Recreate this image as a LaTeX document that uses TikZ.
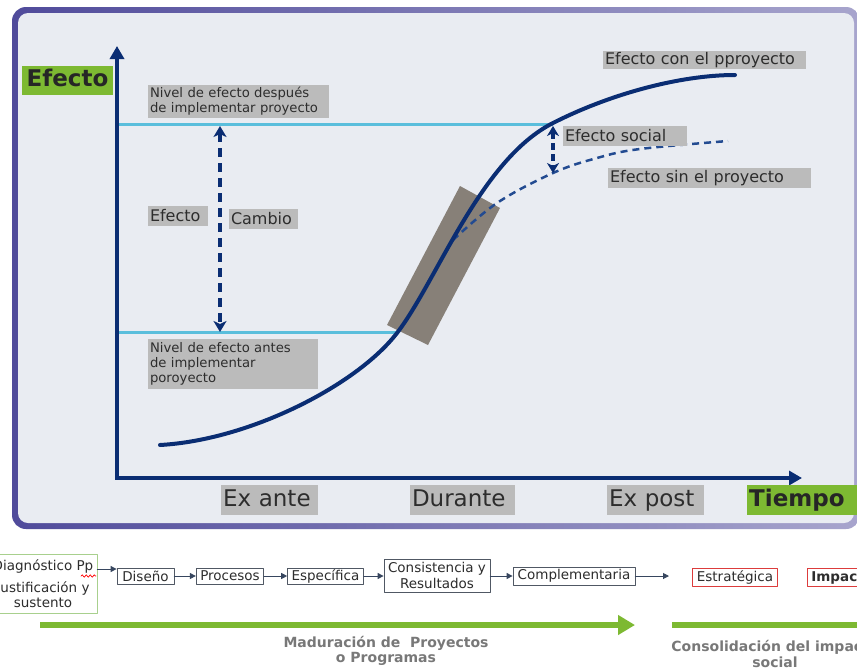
\documentclass[tikz,border=0pt]{standalone}
\usepackage{fontspec}
\setmainfont{DejaVu Sans}
\usetikzlibrary{arrows.meta,calc,decorations.pathmorphing}
\definecolor{navy}{RGB}{10,45,115}
\definecolor{dashnavy}{RGB}{35,75,145}
\definecolor{skyline}{RGB}{90,190,220}
\definecolor{lblgray}{RGB}{187,187,187}
\definecolor{txtdark}{RGB}{45,45,45}
\definecolor{panelc}{RGB}{233,236,242}
\definecolor{framec}{RGB}{80,75,155}
\definecolor{bandc}{RGB}{135,128,120}
\definecolor{leafgreen}{RGB}{125,185,50}
\definecolor{boxline}{RGB}{80,88,100}
\definecolor{flowc}{RGB}{55,70,95}
\definecolor{redline}{RGB}{220,60,60}
\definecolor{mutegray}{RGB}{120,120,120}
\definecolor{lightgreen}{RGB}{168,208,141}
\tikzset{
  lbl/.style={fill=lblgray,text=txtdark,inner xsep=2pt,inner ysep=0pt,align=left,font=\fontsize{16}{18}\selectfont},
  lblsmall/.style={lbl,font=\fontsize{13.2}{15}\selectfont},
  lblbig/.style={lbl,minimum height=30,text height=17,text depth=5,font=\fontsize{23}{25}\selectfont},
  axistitle/.style={fill=leafgreen,text=black!85,inner xsep=2pt,inner ysep=0pt,align=left,minimum height=30,text height=17,text depth=5,font=\bfseries\fontsize{23}{25}\selectfont},
  stage/.style={draw=boxline,line width=0.8pt,text=txtdark,inner xsep=4pt,inner ysep=1pt,minimum height=16,font=\fontsize{13.5}{16}\selectfont},
  goal/.style={stage,draw=redline},
  flow/.style={draw=flowc,line width=1pt,-{Triangle[length=6pt,width=6pt]}},
  phase/.style={text=mutegray,align=center,font=\bfseries\fontsize{14}{15.5}\selectfont},
}
\begin{document}
\begin{tikzpicture}[x=1pt,y=-1pt,line cap=round,line join=round]
		\useasboundingbox (0,0) rectangle (857,667);
		\clip (0,0) rectangle (857,667);
		\fill[white] (0,0) rectangle (857,667);
		% frame of the chart
		\shade[left color=framec,right color=framec!50!white,rounded corners=14] (12,7) rectangle (860,529);
		\fill[panelc,rounded corners=10] (18,13) rectangle (854,523);
		% transition band
		\fill[bandc] (460,186) -- (500,208) -- (428,345) -- (387,325) -- cycle;
		% levels before and after
		\coordinate (hiL) at (117,124);
		\coordinate (hiR) at (553,124);
		\coordinate (loL) at (117,332);
		\coordinate (loR) at (398,332);
		\draw[skyline,line width=3pt,line cap=butt] (hiL) -- (hiR);
		\draw[skyline,line width=3pt,line cap=butt] (loL) -- (loR);
		% curves
		\draw[dashnavy,line width=2.5pt,line cap=butt,dash pattern=on 7pt off 5pt] plot[smooth,tension=0.6] coordinates {(453,240) (497,203) (553,173) (597,158) (640,149) (728,141)};
		\draw[navy,line width=4pt] (160,445) .. controls (250,440) and (357,385) .. (397,333)
			.. controls (437,281) and (480,160) .. (553,123)
			.. controls (610,94) and (680,75) .. (735,75);
		% axes
		\draw[navy,line width=4.5pt,line join=miter,line cap=butt,{Triangle[length=13pt,width=14pt]}-{Triangle[length=13pt,width=14pt]}] (117,46) |- (802,478);
		% changes
		\coordinate (cambioT) at (220,126);
		\coordinate (cambioB) at (220,332);
		\draw[navy,line width=3.5pt,line cap=butt,dash pattern=on 9pt off 6pt,{Stealth[length=11pt,width=13pt,inset=3pt]}-{Stealth[length=11pt,width=13pt,inset=3pt]}] (cambioT) -- (cambioB);
		\coordinate (socialT) at (553,126);
		\coordinate (socialB) at (553,173);
		\draw[navy,line width=3.5pt,line cap=butt,dash pattern=on 7pt off 4pt,{Stealth[length=10pt,width=12pt,inset=3pt]}-{Stealth[length=10pt,width=12pt,inset=3pt]}] (socialT) -- (socialB);
		% labels of the chart
		\node[axistitle,minimum width=91,minimum height=29] (efectoT) at (67.5,80.5) {Efecto};
		\node[axistitle,anchor=west,text width=116] (tiempoT) at (747,500) {Tiempo};
		\node[lblsmall,text width=177,minimum height=33] (despues) at (238.5,101.5) {Nivel de efecto después\\de implementar proyecto};
		\node[lblsmall,text width=166,minimum height=50] (antes) at (233,364) {Nivel de efecto antes\\de implementar\\poroyecto};
		\node[lbl,text width=56,minimum height=20] (efectoL) at (178,216) {Efecto};
		\node[lbl,text width=65,minimum height=20] (cambioL) at (263.5,219) {Cambio};
		\node[lbl,text width=120,minimum height=20] (socialL) at (625,136) {Efecto social};
		\node[lbl,text width=199,minimum height=20] (sinL) at (709.5,178) {Efecto sin el proyecto};
		\node[lbl,text width=199,minimum height=18] (conL) at (704.5,60) {Efecto con el pproyecto};
		\node[lblbig,text width=93] (exante) at (269.5,500) {Ex ante};
		\node[lblbig,text width=101] (durante) at (462.5,500) {Durante};
		\node[lblbig,text width=93] (expost) at (655.5,500) {Ex post};
		% stages
		\node[draw=lightgreen,line width=0.8pt,text=txtdark,align=center,minimum width=108,minimum height=59,font=\fontsize{13.5}{15}\selectfont] (diag) at (43,583.5) {Diagnóstico Pp\\[7pt]Justificación y\\sustento};
		\draw[red,line width=0.7pt,decorate,decoration={snake,amplitude=1.2pt,segment length=4pt}] (81,576) -- (96,576);
		\node[stage,minimum width=57] (dis) at (145.5,576) {Diseño};
		\node[stage,minimum width=66] (proc) at (230,576) {Procesos};
		\node[stage,minimum width=73] (espec) at (325.5,576) {Específica};
		\node[stage,align=center,minimum width=106,minimum height=33] (cons) at (437,575.5) {Consistencia y\\Resultados};
		\node[stage,minimum width=122,minimum height=18] (comp) at (574,576) {Complementaria};
		\coordinate (compEnd) at (669,576);
		\node[goal,minimum width=84,minimum height=18] (estr) at (735,577.5) {Estratégica};
		\node[goal,anchor=west,minimum height=18,font=\bfseries\fontsize{13.5}{16}\selectfont] (imp) at (807,577.5) {Impacto};
		\draw[flow] (diag.east |- 0,569) -- (dis.west |- 0,569);
		\draw[flow] (dis) -- (proc);
		\draw[flow] (proc) -- (espec);
		\draw[flow] (espec) -- (cons.west |- espec);
		\draw[flow] (cons.east |- comp) -- (comp);
		\draw[flow] (comp) -- (compEnd);
		% phases
		\coordinate (madS) at (40,625);
		\coordinate (madE) at (635,625);
		\coordinate (conS) at (672,625);
		\coordinate (conE) at (862,625);
		\draw[leafgreen,line width=6.5pt,line cap=butt,-{Triangle[length=17pt,width=19pt]}] (madS) -- (madE);
		\draw[leafgreen,line width=6.5pt,line cap=butt] (conS) -- (conE);
		\node[phase] (madTxt) at (386,651) {Maduración de\ \ Proyectos\\o Programas};
		\node[phase] (conTxt) at (775,654) {Consolidación del impacto\\social};
	\end{tikzpicture}
\end{document}
